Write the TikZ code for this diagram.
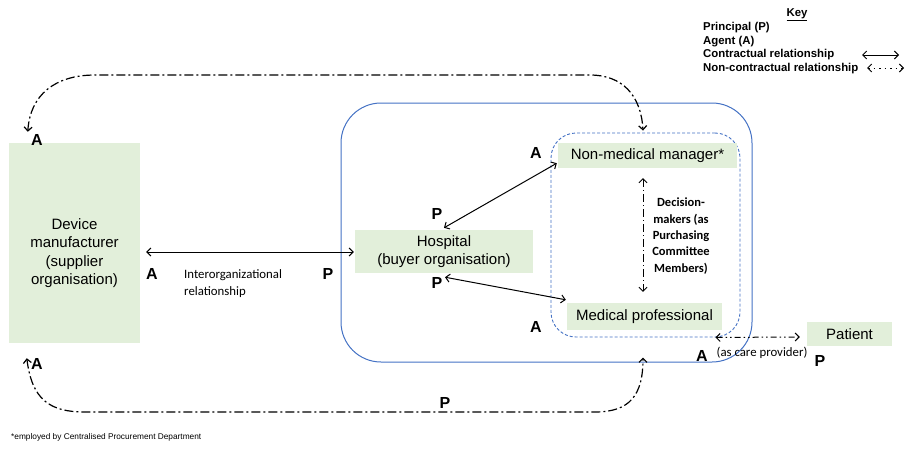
\documentclass[tikz,border=0pt]{standalone}
\usepackage{fontspec}
\setmainfont{Liberation Sans}
\newfontfamily\calfont{Carlito}
\usetikzlibrary{arrows.meta,calc}
\definecolor{boxgreen}{HTML}{E2EFDA}
\definecolor{frameblue}{HTML}{4472C4}
\begin{document}
\begin{tikzpicture}[x=1pt,y=-1pt,
  >={Straight Barb[length=4pt,width=8pt]},
  gbox/.style={fill=boxgreen, inner sep=0pt, align=center, font=\fontsize{15}{18.5}\selectfont},
  btxt/.style={inner sep=0pt, align=center, font=\fontsize{15}{18.5}\selectfont},
  lab/.style={inner sep=0pt, font=\bfseries\fontsize{16}{16}\selectfont},
  keytxt/.style={inner sep=0pt, anchor=west, font=\bfseries\fontsize{11.4}{11.4}\selectfont},
  calt/.style={inner sep=0pt, font=\calfont\fontsize{12.8}{16.5}\selectfont},
  con/.style={line width=1pt, <->},
  ddash/.style={line width=1.2pt, <->, dash pattern=on 9pt off 3pt on 2pt off 3pt},
  vdash/.style={line width=0.9pt, <->, dash pattern=on 8pt off 3pt on 1pt off 3pt},
  pdash/.style={line width=1pt, <->, dash pattern=on 6pt off 3pt on 1.5pt off 3pt on 1.5pt off 3pt},
  kdot/.style={line width=1pt, <->, dash pattern=on 1.5pt off 4pt}
]
\useasboundingbox (0,0) rectangle (908,448);

% containers
\node[draw=frameblue, line width=1pt, rounded corners=40pt, minimum width=411pt, minimum height=259pt, inner sep=0pt] (org) at (546.5,232.5) {};
\node[draw=frameblue, line width=0.9pt, dash pattern=on 3pt off 2pt, rounded corners=25pt, minimum width=189pt, minimum height=204pt, inner sep=0pt] (grp) at (645.5,235) {};

% boxes
\node[gbox, minimum width=131pt, minimum height=200pt] (dev) at (74.5,243) {};
\node[btxt] (devt) at (74.5,253) {Device\\manufacturer\\(supplier\\organisation)};
\node[gbox, minimum width=178pt, minimum height=43pt] (hosp) at (444,251.5) {Hospital\\(buyer organisation)};
\node[gbox, minimum width=179pt, minimum height=25pt] (nmm) at (647.5,155.5) {Non-medical manager*};
\node[gbox, minimum width=155pt, minimum height=27pt] (mp) at (644.5,316.5) {Medical professional};
\node[gbox, minimum width=85pt, minimum height=24pt] (pat) at (849.5,334) {Patient};

% contractual links
\draw[con] ($(dev.east)+(6,9)$) -- ($(hosp.west)+(-1,0.5)$);
\draw[con] ($(hosp.north)+(0,-2)$) -- ($(nmm.south west)+(-1,-5)$);
\draw[con] ($(hosp.south)+(1,4)$) -- ($(mp.north west)+(-1,-3)$);

% non-contractual links
\draw[vdash] ($(nmm.south)+(-4.5,10)$) -- ($(mp.north)+(-1.5,-11)$);
\draw[pdash] ($(grp.south east)+(-25,0)$) -- ($(pat.west)+(-7,3)$);
\draw[ddash] ($(dev.north west)+(19,-11)$) .. controls (30,95) and (55,75) .. (95,75) -- (590,75) .. controls (622,75) and (641,95) .. ($(grp.north)+(-2.5,-2)$);
\draw[ddash] ($(dev.south west)+(18,15)$) .. controls (32,400) and (50,412) .. (85,412) -- (595,412) .. controls (630,412) and (643,395) .. ($(org.south)+(96.5,-5)$);

% A / P labels
\node[lab] (a1) at (37,140) {A};
\node[lab] (a2) at (37,364) {A};
\node[lab] (a3) at (152,274) {A};
\node[lab] (p1) at (328,274) {P};
\node[lab] (p2) at (437,214) {P};
\node[lab] (a4) at (536,153) {A};
\node[lab] (p3) at (437,283) {P};
\node[lab] (a5) at (536,327) {A};
\node[lab] (a6) at (702,356) {A};
\node[lab] (p4) at (820,361) {P};
\node[lab] (p5) at (445,403) {P};

% other texts
\node[calt, anchor=west, align=left] (inter) at (184,283.5) {Interorganizational\\relationship};
\node[inner sep=0pt, align=center, font=\calfont\bfseries\fontsize{12.5}{16.4}\selectfont] (dm) at (681,236) {Decision-\\makers (as\\Purchasing\\Committee\\Members)};
\node[calt] (care) at (762,353) {(as care provider)};
\node[inner sep=0pt, anchor=west, font=\fontsize{8.3}{10}\selectfont] (fn) at (11,437) {*employed by Centralised Procurement Department};

% key
\node[inner sep=0pt, font=\bfseries\fontsize{11.4}{11.4}\selectfont] (key) at (797,15) {\underline{Key}};
\node[keytxt] (k1) at (703,28) {Principal (P)};
\node[keytxt] (k2) at (703,42) {Agent (A)};
\node[keytxt] (k3) at (703,55) {Contractual relationship};
\node[keytxt] (k4) at (703,69) {Non-contractual relationship};
\coordinate (k3a) at (862,55);
\coordinate (k3b) at (899,55);
\coordinate (k4a) at (867,68);
\coordinate (k4b) at (904,68);
\draw[con] (k3a) -- (k3b);
\draw[kdot] (k4a) -- (k4b);
\end{tikzpicture}
\end{document}
